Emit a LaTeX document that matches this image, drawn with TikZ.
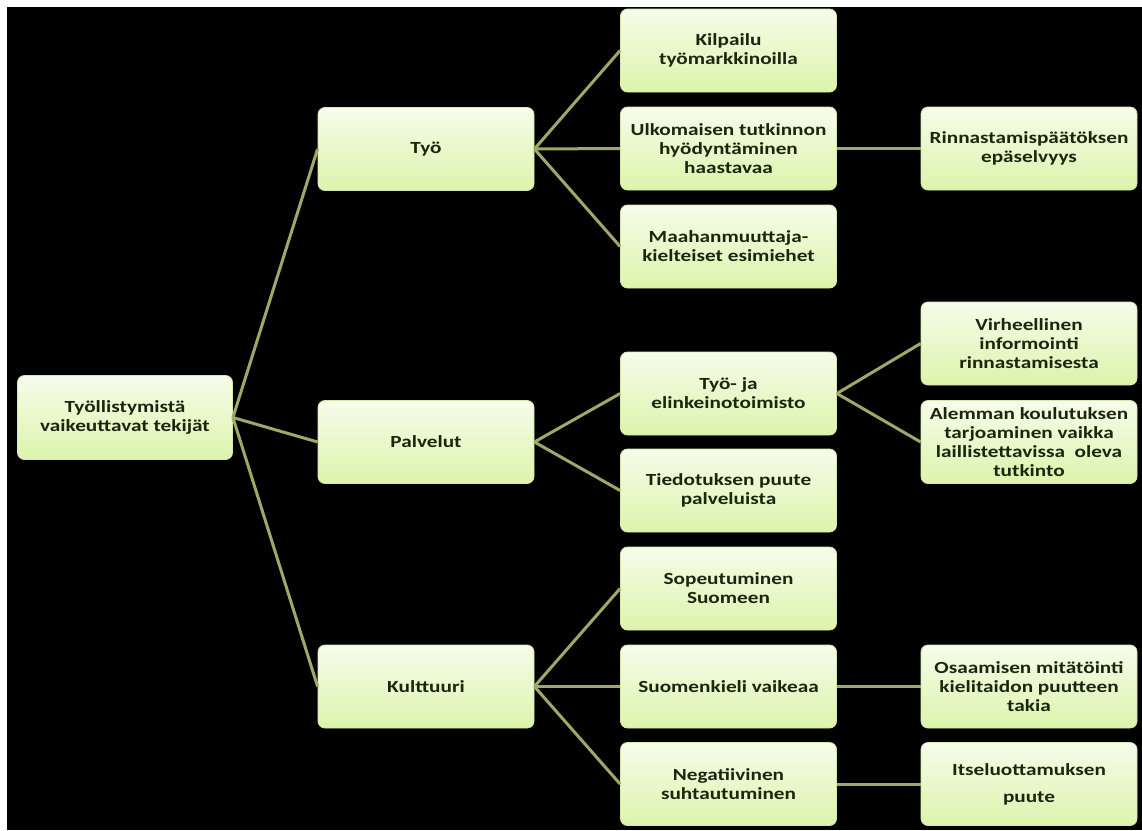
\documentclass[tikz,border=0pt]{standalone}
\usepackage{fontspec}
\newfontfamily\nodefont[FakeStretch=1.25]{Carlito}
\definecolor{linecol}{RGB}{160,168,104}
\definecolor{boxtop}{RGB}{246,252,234}
\definecolor{boxbot}{RGB}{220,244,172}
\definecolor{boxedge}{RGB}{214,232,170}
\definecolor{txtcol}{RGB}{26,38,14}
\begin{document}
\begin{tikzpicture}[x=1pt,y=-1pt,
  box/.style={rectangle, rounded corners=7pt, top color=boxtop, bottom color=boxbot,
    draw=boxedge, line width=0.8pt, minimum width=216pt, minimum height=83pt,
    inner sep=2pt, align=center, text=txtcol,
    font=\nodefont\bfseries\fontsize{17pt}{19pt}\selectfont},
  conn/.style={draw=linecol, line width=3pt}]
\useasboundingbox (0,0) rectangle (1142,830);
\fill[white] (0,0) rectangle (1142,830);
\fill[black] (7,7) rectangle (1142,830);

\node[box, minimum width=215pt, minimum height=84pt] (root) at (125,417.5) {Työllistymistä\\vaikeuttavat tekijät};
\node[box] (tyo)  at (426,149)   {Työ};
\node[box] (palv) at (426,442)   {Palvelut};
\node[box] (kult) at (426,686.5) {Kulttuuri};

\node[box] (c1) at (728.5,50.5)  {Kilpailu\\työmarkkinoilla};
\node[box] (c2) at (728.5,148.5) {Ulkomaisen tutkinnon\\hyödyntäminen\\haastavaa};
\node[box] (c3) at (728.5,246.5) {Maahanmuuttaja-\\kielteiset esimiehet};
\node[box] (c4) at (728.5,393.5) {Työ- ja\\elinkeinotoimisto};
\node[box] (c5) at (728.5,490.5) {Tiedotuksen puute\\palveluista};
\node[box] (c6) at (728.5,588.5) {Sopeutuminen\\Suomeen};
\node[box] (c7) at (728.5,686.5) {Suomenkieli vaikeaa};
\node[box] (c8) at (728.5,784)   {Negatiivinen\\suhtautuminen};

\node[box] (d1) at (1029,148.5) {Rinnastamispäätöksen\\epäselvyys};
\node[box] (d2) at (1029,343.5) {Virheellinen\\informointi\\rinnastamisesta};
\node[box] (d3) at (1029,442)   {Alemman koulutuksen\\tarjoaminen vaikka\\laillistettavissa\ \ oleva\\tutkinto};
\node[box] (d4) at (1029,686.5) {Osaamisen mitätöinti\\kielitaidon puutteen\\takia};
\node[box] (d5) at (1029,784)   {Itseluottamuksen\\[8pt]puute};

\draw[conn] (root.east) -- (tyo.west);
\draw[conn] (root.east) -- (palv.west);
\draw[conn] (root.east) -- (kult.west);
\draw[conn] (tyo.east) -- (c1.west);
\draw[conn] (tyo.east) -- (c2.west);
\draw[conn] (tyo.east) -- (c3.west);
\draw[conn] (palv.east) -- (c4.west);
\draw[conn] (palv.east) -- (c5.west);
\draw[conn] (kult.east) -- (c6.west);
\draw[conn] (kult.east) -- (c7.west);
\draw[conn] (kult.east) -- (c8.west);
\draw[conn] (c2.east) -- (d1.west);
\draw[conn] (c4.east) -- (d2.west);
\draw[conn] (c4.east) -- (d3.west);
\draw[conn] (c7.east) -- (d4.west);
\draw[conn] (c8.east) -- (d5.west);
\end{tikzpicture}
\end{document}
